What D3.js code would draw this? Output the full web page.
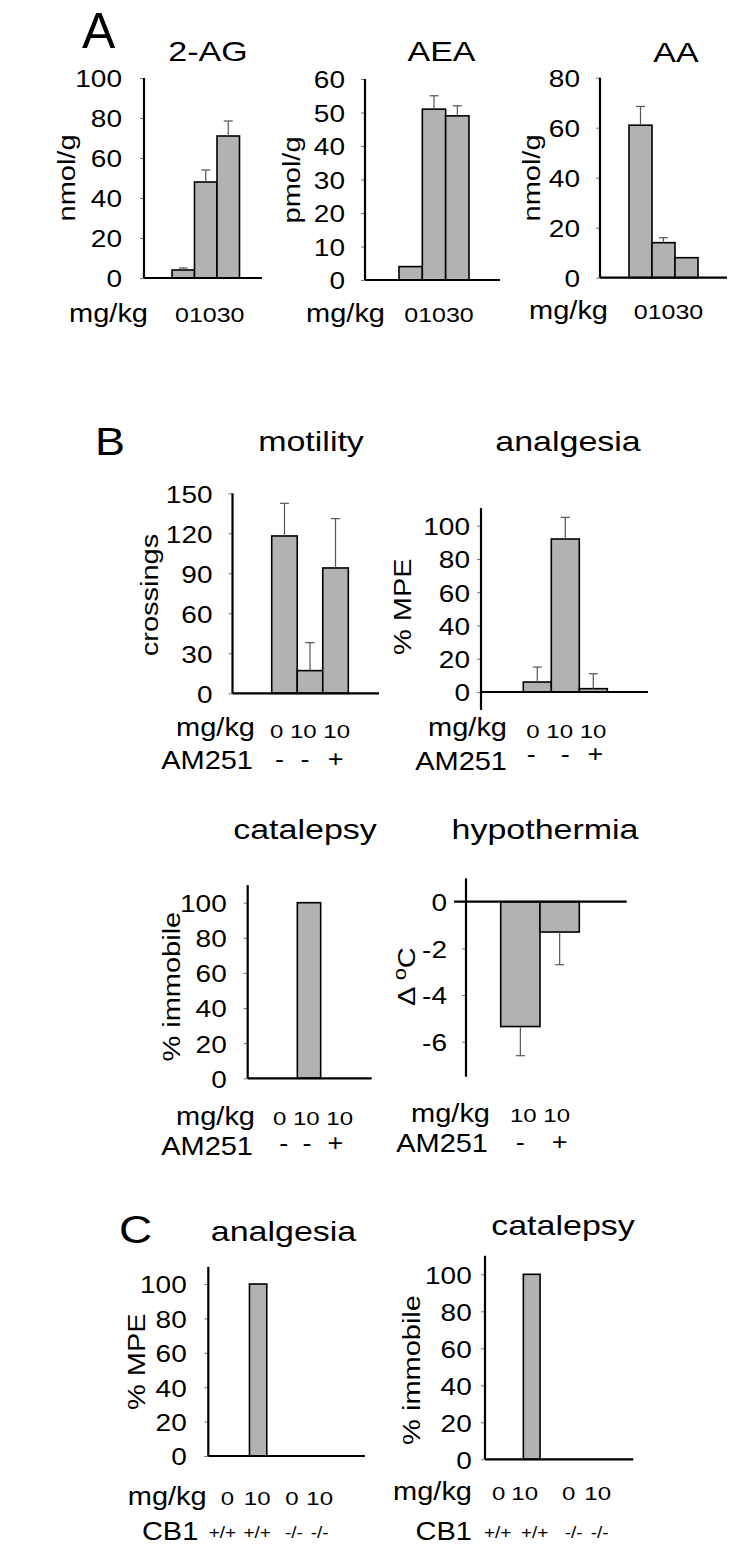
<!DOCTYPE html>
<html><head><meta charset="utf-8">
<script src="https://cdn.jsdelivr.net/npm/d3@7"></script>
<style>
body{margin:0;background:#fff}
svg{display:block}
text{font-family:"Liberation Sans",Arial,Helvetica,sans-serif;fill:#000}
</style>
</head><body>
<svg id="c" width="750" height="1560"></svg>
<script>
// ---------------- data ----------------
const doseA = ["0", "10", "30"];
const agMean = [4, 48, 71],  agErr = [1, 6, 7.5];
const aeaMean = [4, 51, 49], aeaErr = [0, 4, 3];
const aaMean = [61, 14, 8],  aaErr = [7.5, 2, 0];
const ticksAG = [0, 20, 40, 60, 80, 100];
const ticksAEA = [0, 10, 20, 30, 40, 50, 60];
const ticksAA = [0, 20, 40, 60, 80];

const doseB = ["0", "10", "10"], am251B = ["-", "-", "+"];
const motilityMean = [118, 17, 94], motilityErr = [24.5, 21, 37];
const analgesiaMean = [6, 92, 2],   analgesiaErr = [9, 13, 9];
const catalepsyMean = [0, 100, 0],  catalepsyErr = [0, 0, 0];
const ticksMotility = [0, 30, 60, 90, 120, 150];
const ticksPct = [0, 20, 40, 60, 80, 100];

const doseHypo = ["10", "10"], am251Hypo = ["-", "+"];
const hypoMean = [-5.35, -1.3], hypoErr = [1.25, 1.4];
const ticksHypo = [0, -2, -4, -6];

const doseC = ["0", "10", "0", "10"], cb1C = ["+/+", "+/+", "-/-", "-/-"];
const analgesiaCMean = [0, 100, 0, 0], catalepsyCMean = [0, 100, 0, 0], errC = [0, 0, 0, 0];

// ---------------- helpers ----------------
const svg = d3.select("#c");
const FILL = "#b2b2b2";

function txt(g, x, y, s, size, anchor, sy, rot) {
  const t = g.append("text").style("font-size", size + "px").attr("text-anchor", anchor || "start")
    .attr("transform", `translate(${x},${y})${rot ? " rotate(-90)" : ""} scale(1,${sy == null ? 0.86 : sy})`);
  t.text(s);
  return t;
}

function panel(o) {
  const g = svg.append("g");
  const y = d3.scaleLinear().domain(o.domain).range(o.range);
  const x = d3.scaleBand().domain(d3.range(o.values.length)).range(o.barRange)
    .paddingInner(o.pin || 0).paddingOuter(o.pout || 0);
  const bw = x.bandwidth();
  const cx = i => x(i) + bw / 2;
  const mid = (o.barRange[0] + o.barRange[1]) / 2;

  // bars
  g.selectAll("rect.bar").data(o.values.map((v, i) => ({v, i})).filter(d => d.v !== 0)).join("rect")
    .attr("class", "bar")
    .attr("x", d => x(d.i)).attr("width", bw)
    .attr("y", d => Math.min(y(d.v), y(0))).attr("height", d => Math.abs(y(d.v) - y(0)))
    .attr("fill", FILL).attr("stroke", "#000").attr("stroke-width", 1.6);

  // error bars (one-sided, away from zero)
  const eb = o.values.map((v, i) => ({v, e: o.err[i], i})).filter(d => d.e > 0);
  const tip = d => y(d.v + (d.v < 0 ? -d.e : d.e));
  g.selectAll("line.eb").data(eb).join("line")
    .attr("x1", d => cx(d.i)).attr("x2", d => cx(d.i))
    .attr("y1", d => y(d.v)).attr("y2", tip)
    .attr("stroke", "#555").attr("stroke-width", 1.2);
  g.selectAll("line.cap").data(eb).join("line")
    .attr("x1", d => cx(d.i) - 4.5).attr("x2", d => cx(d.i) + 4.5)
    .attr("y1", tip).attr("y2", tip)
    .attr("stroke", "#555").attr("stroke-width", 1.2);

  // y axis: small ticks + labels
  const ax = d3.axisLeft(y).tickValues(o.ticks).tickSize(4).tickPadding(o.pad - 4).tickFormat(d => String(d));
  const ag = g.append("g").attr("transform", `translate(${o.axX},0)`).call(ax);
  ag.attr("font-size", null).attr("font-family", null);
  ag.select(".domain").remove();
  ag.selectAll(".tick line").attr("stroke", "#777").attr("stroke-width", 1);
  ag.selectAll("text").style("font-size", "28px").attr("dy", "0.36em").attr("fill", "#000")
    .attr("transform", "scale(1,0.88)");

  // axis lines
  g.append("line").attr("x1", o.axX).attr("x2", o.axX)
    .attr("y1", y(o.yLine[0])).attr("y2", y(o.yLine[1]))
    .attr("stroke", "#000").attr("stroke-width", 2.2);
  g.append("line").attr("x1", o.xLine[0]).attr("x2", o.xLine[1])
    .attr("y1", y(0)).attr("y2", y(0))
    .attr("stroke", "#000").attr("stroke-width", 2.2);

  // title
  txt(g, o.title[1], o.title[2], o.title[0], 34, "middle", 0.8);
  // y label
  const yl = txt(g, o.ylab[1], o.ylab[2], "", 29, "middle", 0.82, true);
  if (o.ylabFn) o.ylabFn(yl); else yl.text(o.ylab[0]);

  // rows below
  o.rows.forEach(r => {
    txt(g, r.lx, r.ly, r.label, 29, "end", 0.88);
    if (r.join != null) {
      txt(g, mid + (r.dx || 0), r.vy, r.vals.join(r.join), r.size, "middle", r.sy == null ? 0.8 : r.sy);
    } else {
      r.vals.forEach((v, i) => txt(g, cx(i) + (r.dx || 0) + (r.dxs ? r.dxs[i] : 0), r.vy, v, r.size, "middle",
        r.sy == null ? 0.8 : r.sy));
    }
  });
}

// ---------------- panel letters ----------------
txt(svg, 82, 48, "A", 50, "start", 1.0);
txt(svg, 95, 455, "B", 45, "start", 0.88);
txt(svg, 119, 1243, "C", 46, "start", 0.84);

// ---------------- Panel A ----------------
panel({values: agMean, err: agErr, domain: [0, 100], range: [278, 78], barRange: [172, 239.5],
  ticks: ticksAG, pad: 22, axX: 144, yLine: [0, 100], xLine: [144, 262],
  title: ["2-AG", 208, 61], ylab: ["nmol/g", 75, 178],
  rows: [{label: "mg/kg", lx: 148, ly: 322, vals: doseA, vy: 322, size: 25, join: "", dx: 4}]});
panel({values: aeaMean, err: aeaErr, domain: [0, 60], range: [280, 79], barRange: [399, 469],
  ticks: ticksAEA, pad: 20, axX: 365, yLine: [0, 60], xLine: [365, 500],
  title: ["AEA", 441.5, 61], ylab: ["pmol/g", 300, 180],
  rows: [{label: "mg/kg", lx: 385, ly: 322, vals: doseA, vy: 322, size: 25, join: "", dx: 5}]});
panel({values: aaMean, err: aaErr, domain: [0, 80], range: [277.7, 77.7], barRange: [629, 698],
  ticks: ticksAA, pad: 20, axX: 600, yLine: [0, 80], xLine: [600, 727],
  title: ["AA", 676, 61.7], ylab: ["nmol/g", 540, 178],
  rows: [{label: "mg/kg", lx: 608, ly: 319, vals: doseA, vy: 319, size: 25, join: "", dx: 5}]});

// ---------------- Panel B (top) ----------------
panel({values: motilityMean, err: motilityErr, domain: [0, 150], range: [693.3, 493.3], barRange: [271.7, 348.3],
  ticks: ticksMotility, pad: 20, axX: 232.5, yLine: [0, 150], xLine: [232.5, 379],
  title: ["motility", 311, 450.7], ylab: ["crossings", 158, 595],
  rows: [{label: "mg/kg", lx: 255, ly: 736, vals: doseB, vy: 738, size: 24, join: " "},
         {label: "AM251", lx: 253, ly: 769.3, vals: am251B, vy: 767, size: 27, sy: 0.9, dxs: [-5, -5, 0]}]});
panel({values: analgesiaMean, err: analgesiaErr, domain: [0, 100], range: [692, 525.7], barRange: [523.3, 607.3],
  ticks: ticksPct, pad: 11, axX: 481, yLine: [-10.8, 110.6], xLine: [481, 648],
  title: ["analgesia", 568, 450.7], ylab: ["% MPE", 411, 606.7],
  rows: [{label: "mg/kg", lx: 507, ly: 736, vals: doseB, vy: 738, size: 24, join: " ", dx: 1},
         {label: "AM251", lx: 507, ly: 770, vals: am251B, vy: 762, size: 27, sy: 0.9, dxs: [-6, 0, 2]}]});

// ---------------- Panel B (bottom) ----------------
panel({values: catalepsyMean, err: catalepsyErr, domain: [0, 100], range: [1078.3, 902.7], barRange: [274, 344],
  ticks: ticksPct, pad: 21, axX: 247.7, yLine: [0, 110], xLine: [247.7, 371.7],
  title: ["catalepsy", 305, 839.3], ylab: ["% immobile", 180, 986.7],
  rows: [{label: "mg/kg", lx: 255, ly: 1125, vals: doseB, vy: 1125, size: 24, join: " ", dx: 4},
         {label: "AM251", lx: 253, ly: 1155, vals: am251B, vy: 1151, size: 27, sy: 0.9, dxs: [-2, -2, 3]}]});
panel({values: hypoMean, err: hypoErr, domain: [0, -6], range: [901.7, 1041.7], barRange: [500.7, 579.3],
  ticks: ticksHypo, pad: 19, axX: 466, yLine: [-7.5, 1], xLine: [454, 626.7],
  title: ["hypothermia", 545, 839.3], ylab: ["", 415, 976.7],
  ylabFn: t => { t.append("tspan").text("\u0394 ");
                 t.append("tspan").attr("dy", "-0.5em").style("font-size", "75%").text("o");
                 t.append("tspan").attr("dy", "0.375em").text("C"); },
  rows: [{label: "mg/kg", lx: 490, ly: 1121.7, vals: doseHypo, vy: 1121.7, size: 24, join: " "},
         {label: "AM251", lx: 488, ly: 1151.7, vals: am251Hypo, vy: 1150, size: 27, sy: 0.9}]});

// ---------------- Panel C ----------------
panel({values: analgesiaCMean, err: errC, domain: [0, 100], range: [1456, 1284], barRange: [212, 335], pin: 0.437, pout: 0.2185,
  ticks: ticksPct, pad: 21.6, axX: 208.3, yLine: [0, 110], xLine: [208.3, 365],
  title: ["analgesia", 283.5, 1241], ylab: ["% MPE", 145, 1361.7],
  rows: [{label: "mg/kg", lx: 206.7, ly: 1505, vals: doseC, vy: 1505, size: 24, dxs: [0, -1, 3, 0]},
         {label: "CB1", lx: 198.3, ly: 1540, vals: cb1C, vy: 1538, size: 19, sy: 0.85, dxs: [-5, -1, 5, 0]}]});
panel({values: catalepsyCMean, err: errC, domain: [0, 100], range: [1459.3, 1274.3], barRange: [481.7, 611.7], pin: 0.443, pout: 0.388,
  ticks: ticksPct, pad: 13.3, axX: 485, yLine: [0, 110], xLine: [485, 633.3],
  title: ["catalepsy", 563, 1235], ylab: ["% immobile", 420, 1370],
  rows: [{label: "mg/kg", lx: 472, ly: 1500, vals: doseC, vy: 1500, size: 24, dxs: [-3, -7, 7, 6]},
         {label: "CB1", lx: 472, ly: 1540, vals: cb1C, vy: 1538, size: 19, sy: 0.85, dxs: [-4, 3, 12, 8]}]});
</script>
</body></html>
